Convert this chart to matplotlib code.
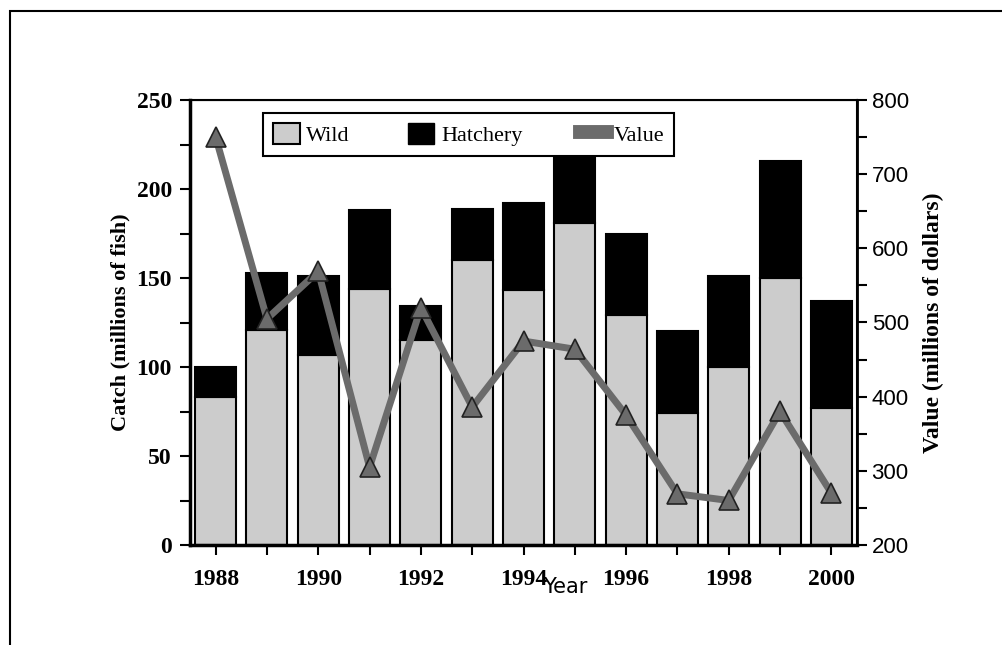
import matplotlib
matplotlib.use("Agg")
import matplotlib.pyplot as plt
from matplotlib.patches import Rectangle, Patch
from matplotlib.lines import Line2D

# salmon catch by origin and ex-vessel value, 1988-2000
years = [1988, 1989, 1990, 1991, 1992, 1993, 1994, 1995, 1996, 1997, 1998, 1999, 2000]
wild = [83, 121, 107, 144, 115, 160, 143, 181, 129, 74, 100, 150, 77]
hatchery = [17, 32, 44, 44, 19, 29, 49, 38, 46, 46, 51, 66, 60]
value = [750, 505, 569, 305, 520, 386, 475, 464, 375, 269, 260, 380, 270]

serif_bold = dict(family="Liberation Serif", weight="bold")

fig = plt.figure(figsize=(10.02, 6.45), dpi=100)
fig.patches.append(Rectangle((10 / 1002, -0.2), 1.1, 1.2 - 11 / 645, transform=fig.transFigure,
                             fill=False, edgecolor="black", linewidth=1.5, zorder=0))

ax = fig.add_axes([190 / 1002, 1 - 545 / 645, 667 / 1002, 445 / 645])
ax.bar(years, wild, width=0.8, color="#cccccc", edgecolor="black", linewidth=1.5, zorder=2)
ax.bar(years, hatchery, width=0.8, bottom=wild, color="black", edgecolor="black",
       linewidth=1.5, zorder=2)
ax.set_xlim(1987.5, 2000.5)
ax.set_ylim(0, 250)
ax.set_yticks(range(0, 251, 50))
ax.set_yticks(range(0, 251, 25), minor=True)
ax.set_xticks(years)
ax.set_xticklabels([str(y) if y % 2 == 0 else "" for y in years], fontsize=17, **serif_bold)
ax.set_yticklabels([str(v) for v in range(0, 251, 50)], fontsize=17, **serif_bold)
ax.tick_params(axis="both", which="both", direction="out", length=7, width=1.5)
ax.tick_params(axis="x", pad=10)
ax.tick_params(axis="y", pad=6)
for s in ax.spines.values():
    s.set_linewidth(1.5)
ax.spines["left"].set_linewidth(2.5)
ax.spines["bottom"].set_linewidth(2.5)
ax.set_ylabel("Catch (millions of fish)", fontsize=16, labelpad=4, **serif_bold)

ax2 = ax.twinx()
ax2.plot(years, value, color="#6b6b6b", linewidth=5, marker="^", markersize=14,
         markerfacecolor="#6b6b6b", markeredgecolor="#222222", markeredgewidth=1.2, zorder=3)
ax2.set_ylim(200, 800)
ax2.set_yticks(range(200, 801, 100))
ax2.set_yticks(range(200, 801, 50), minor=True)
ax2.set_yticklabels([str(v) for v in range(200, 801, 100)], fontsize=16,
                    family="Liberation Sans")
ax2.tick_params(axis="y", which="both", direction="out", length=7, width=1.5)
ax2.spines["right"].set_linewidth(2)
ax2.set_ylabel("Value (millions of dollars)", fontsize=17, rotation=90, labelpad=10,
               **serif_bold)

handles = [Patch(facecolor="#cccccc", edgecolor="black", linewidth=1.5),
           Patch(facecolor="black", edgecolor="black"),
           Line2D([0], [0], color="#6b6b6b", linewidth=10)]
leg = ax2.legend(handles, ["Wild", "Hatchery", "Value"], ncol=3, loc="upper left",
                 bbox_to_anchor=(73 / 667, 1 - 13 / 445), frameon=True, fancybox=False,
                 edgecolor="black", framealpha=1, borderaxespad=0, columnspacing=2.6,
                 handlelength=1.2, handleheight=1.1, handletextpad=0.3, borderpad=0.45,
                 prop=dict(family="Liberation Serif", size=16))
leg.get_frame().set_linewidth(1.5)
leg.set_zorder(5)

fig.text(565 / 1002, 1 - 587 / 645, "Year", fontsize=15, family="DejaVu Sans",
         ha="center", va="center")

fig.savefig("out.png", dpi=100)
